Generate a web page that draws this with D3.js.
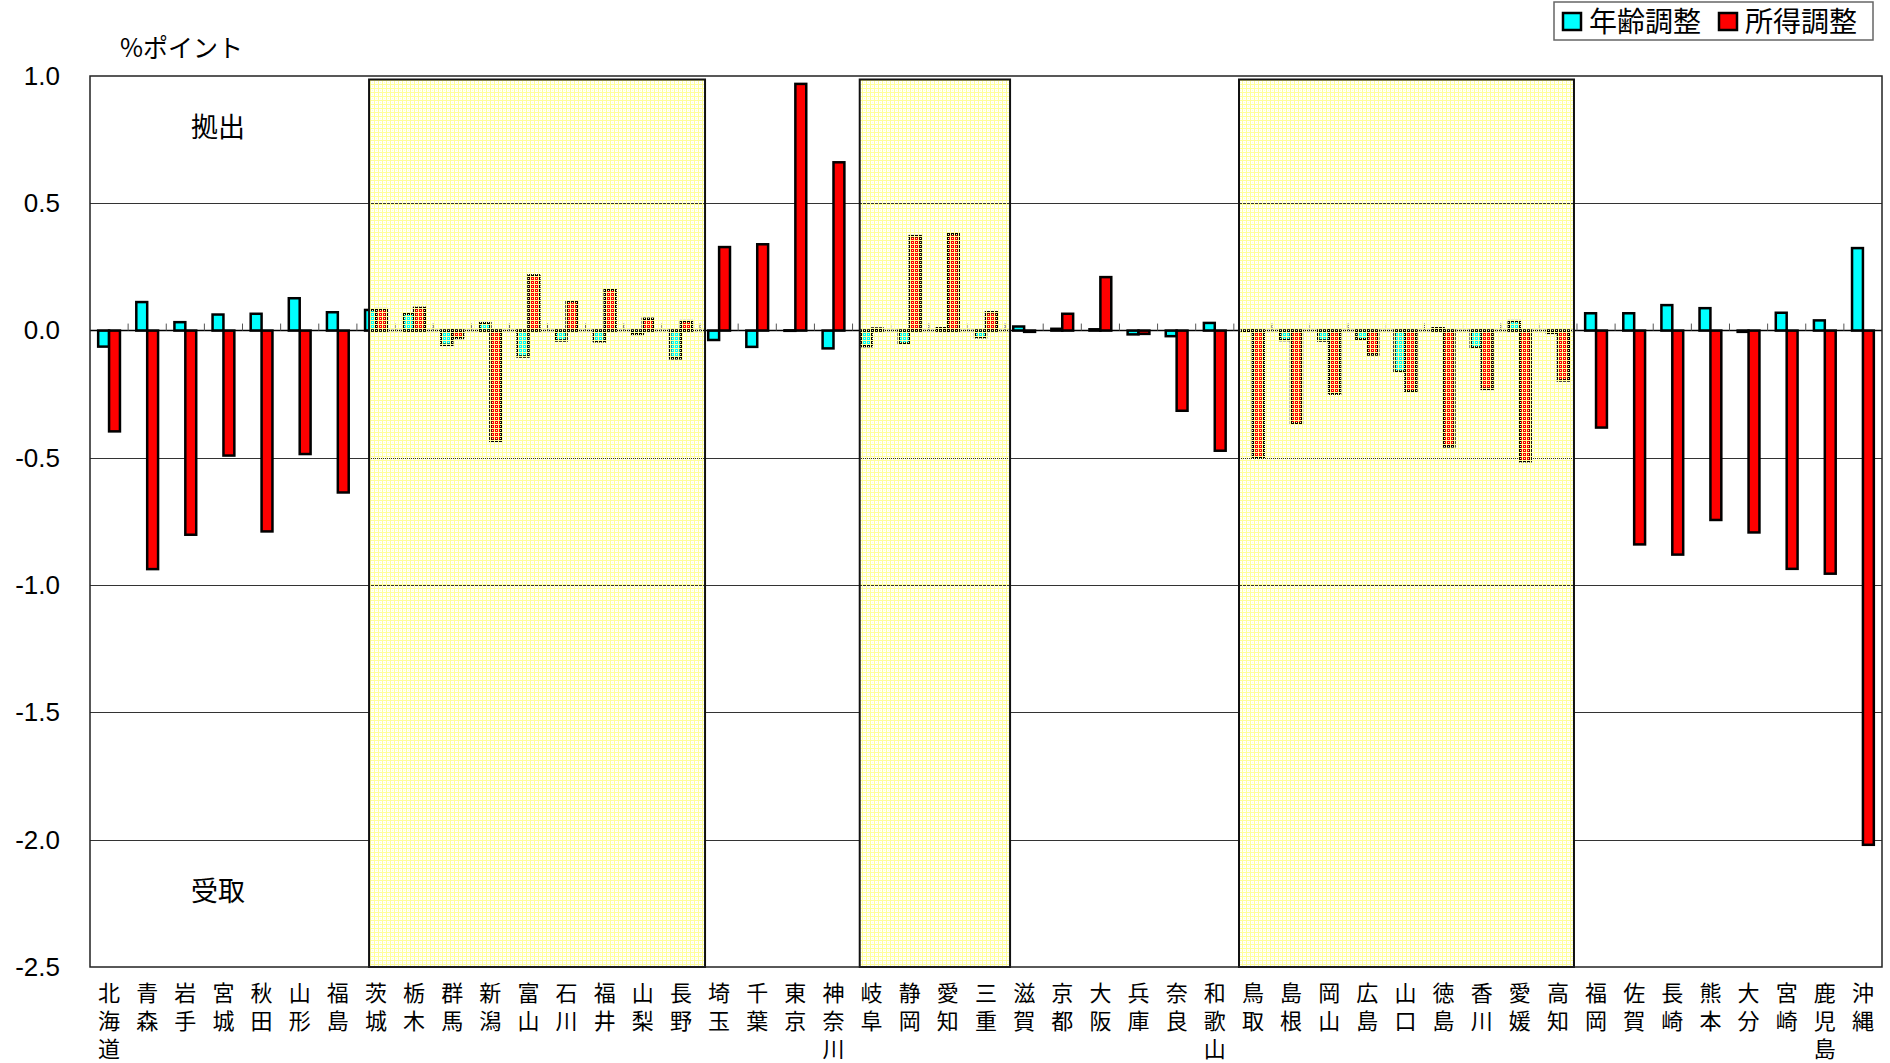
<!DOCTYPE html>
<meta charset="utf-8">
<style>
body { margin: 0; background: #fff; }
svg text { fill: #000; }
.ylab text { font: 26px "Liberation Sans", Arial, sans-serif; }
.jp { font-family: "Noto Sans CJK JP", sans-serif; }
.cat { writing-mode: vertical-rl; }
.grid line { stroke: #333; stroke-width: 1; shape-rendering: crispEdges; }
.bar { stroke: #000; stroke-width: 2.5; }
</style>
<body>
<script src="https://d3js.org/d3.v7.min.js"></script>
<script>

var prefectures = ["北海道","青森","岩手","宮城","秋田","山形","福島",
  "茨城","栃木","群馬","新潟","富山","石川","福井","山梨","長野",
  "埼玉","千葉","東京","神奈川","岐阜","静岡","愛知","三重",
  "滋賀","京都","大阪","兵庫","奈良","和歌山",
  "鳥取","島根","岡山","広島","山口","徳島","香川","愛媛","高知",
  "福岡","佐賀","長崎","熊本","大分","宮崎","鹿児島","沖縄"];

// 年齢調整
var ageAdj = [-0.063, 0.112, 0.033, 0.063, 0.066, 0.127, 0.072,
  0.081, 0.066, -0.056, 0.029, -0.102, -0.039, -0.042, -0.013, -0.109,
  -0.037, -0.064, 0.001, -0.070, -0.061, -0.051, 0.009, -0.026,
  0.016, 0.007, 0.005, -0.015, -0.022, 0.030,
  -0.004, -0.037, -0.039, -0.034, -0.161, 0.009, -0.066, 0.037, -0.009,
  0.068, 0.068, 0.100, 0.088, -0.005, 0.070, 0.040, 0.324];

// 所得調整
var incomeAdj = [-0.396, -0.937, -0.802, -0.491, -0.789, -0.485, -0.636,
  0.084, 0.089, -0.029, -0.433, 0.217, 0.115, 0.161, 0.046, 0.037,
  0.328, 0.339, 0.969, 0.661, 0.008, 0.371, 0.379, 0.072,
  -0.005, 0.066, 0.210, -0.013, -0.315, -0.472,
  -0.499, -0.365, -0.248, -0.094, -0.238, -0.455, -0.229, -0.513, -0.196,
  -0.381, -0.840, -0.880, -0.744, -0.793, -0.936, -0.955, -2.020];

var seriesNames = ["年齢調整", "所得調整"];
var seriesColors = ["#00ffff", "#ff0000"];
var yTicks = [1.0, 0.5, 0.0, -0.5, -1.0, -1.5, -2.0, -2.5];
var highlightGroups = [["茨城","長野"], ["岐阜","三重"], ["鳥取","高知"]];

var margin = {top: 76, right: 8, bottom: 96, left: 90},
    W = 1890, H = 1063,
    width = W - margin.left - margin.right,
    height = H - margin.top - margin.bottom;

var svg = d3.select("body").append("svg")
    .attr("width", W).attr("height", H);

var defs = svg.append("defs");
var pat = defs.append("pattern")
    .attr("id", "ygrid").attr("patternUnits", "userSpaceOnUse")
    .attr("width", 4).attr("height", 4);
pat.append("rect").attr("x", 0).attr("y", 0).attr("width", 4).attr("height", 1).attr("fill", "#ffff99");
pat.append("rect").attr("x", 0).attr("y", 0).attr("width", 1).attr("height", 4).attr("fill", "#ffff99");
pat.append("rect").attr("x", 2).attr("y", 2).attr("width", 1).attr("height", 1).attr("fill", "#ffffcc");

var chart = svg.append("g")
    .attr("transform", "translate(" + margin.left + "," + margin.top + ")");

var y = d3.scaleLinear().domain([-2.5, 1.0]).range([height, 0]);
var x0 = d3.scaleBand().domain(prefectures).range([0, width]);
var x1 = d3.scaleBand().domain(seriesNames).range([0, x0.bandwidth()]).paddingOuter(0.75);

// gridlines
chart.append("g").attr("class", "grid")
  .call(d3.axisLeft(y).tickValues(yTicks.filter(function(d){ return d !== 0 && d !== 1 && d !== -2.5; }))
    .tickSize(-width).tickFormat(""))
  .call(function(g){ g.select(".domain").remove(); });

// y labels
chart.append("g").attr("class", "ylab")
  .call(d3.axisLeft(y).tickValues(yTicks).tickSize(0).tickPadding(30)
    .tickFormat(function(d){ return d.toFixed(1); }))
  .call(function(g){ g.select(".domain").remove(); });

// bars
var rows = prefectures.map(function(p, i) {
  return {name: p, vals: [ageAdj[i], incomeAdj[i]]};
});

var groups = chart.selectAll(".grp").data(rows).enter().append("g")
    .attr("class", "grp")
    .attr("transform", function(d){ return "translate(" + x0(d.name) + ",0)"; });

groups.selectAll("rect").data(function(d){
    return d.vals.map(function(v, k){ return {key: seriesNames[k], v: v, k: k}; });
  }).enter().append("rect")
    .attr("class", "bar")
    .attr("x", function(d){ return x1(d.key); })
    .attr("width", x1.bandwidth())
    .attr("y", function(d){ return y(Math.max(0, d.v)); })
    .attr("height", function(d){ return Math.max(0.5, Math.abs(y(d.v) - y(0))); })
    .attr("fill", function(d){ return seriesColors[d.k]; });

// zero line + ticks
chart.append("line")
  .attr("x1", 0).attr("x2", width).attr("y1", y(0)).attr("y2", y(0))
  .attr("stroke", "#000").attr("stroke-width", 1.5);

chart.selectAll(".xtick").data(prefectures.slice(1)).enter().append("line")
  .attr("x1", function(d){ return x0(d); }).attr("x2", function(d){ return x0(d); })
  .attr("y1", y(0)).attr("y2", y(0) - 7)
  .attr("stroke", "#555").attr("stroke-width", 1);

// highlighted regions (hand-drawn boxes, small edge tweaks per box)
var boxNudge = [[5, 2], [0, 2], [-2, -6]];
highlightGroups.forEach(function(g, i) {
  var left = x0(g[0]) + x1(seriesNames[0]) - 1 + boxNudge[i][0];
  var right = x0(g[1]) + x0.bandwidth() + 3 + boxNudge[i][1];
  chart.append("rect")
    .attr("x", left).attr("y", y(1.0) + 3.5)
    .attr("width", right - left).attr("height", y(-2.5) - y(1.0) - 3.5)
    .attr("fill", "url(#ygrid)")
    .attr("stroke", "#111").attr("stroke-width", 2);
});

// plot frame
chart.append("rect")
  .attr("x", 0).attr("y", 0).attr("width", width).attr("height", height)
  .attr("fill", "none").attr("stroke", "#222").attr("stroke-width", 1.5);

// category labels: one character per row, stacked downwards
var chars = [];
prefectures.forEach(function(p) {
  p.split("").forEach(function(ch, i) { chars.push({name: p, ch: ch, row: i}); });
});
chart.selectAll(".cat").data(chars).enter().append("text")
  .attr("class", "jp cat")
  .style("font-size", "22px")
  .attr("x", function(d){ return x0(d.name) + x0.bandwidth() / 2; })
  .attr("y", function(d){ return height + 15 + d.row * 28; })
  .text(function(d){ return d.ch; });

// unit and annotations
svg.append("text").attr("class", "jp").attr("x", 120).attr("y", 57)
  .style("font-size", "25px").text("%ポイント");
chart.append("text").attr("class", "jp").attr("x", 128).attr("y", y(0.8) + 10)
  .attr("text-anchor", "middle").style("font-size", "27px").text("拠出");
chart.append("text").attr("class", "jp").attr("x", 128).attr("y", y(-2.2) + 10)
  .attr("text-anchor", "middle").style("font-size", "27px").text("受取");

// legend
var lg = svg.append("g").attr("transform", "translate(1554,2)");
lg.append("rect").attr("width", 319).attr("height", 38)
  .attr("fill", "#fff").attr("stroke", "#666").attr("stroke-width", 1.5);
var li = lg.selectAll(".li").data(seriesNames).enter().append("g")
  .attr("transform", function(d, i){ return "translate(" + (9 + i * 156) + ",0)"; });
li.append("rect").attr("x", 0).attr("y", 11).attr("width", 18).attr("height", 17)
  .attr("fill", function(d, i){ return seriesColors[i]; })
  .attr("stroke", "#000").attr("stroke-width", 2.5);
li.append("text").attr("class", "jp").attr("x", 26).attr("y", 30)
  .style("font-size", "28px").text(function(d){ return d; });

</script>
</body>
